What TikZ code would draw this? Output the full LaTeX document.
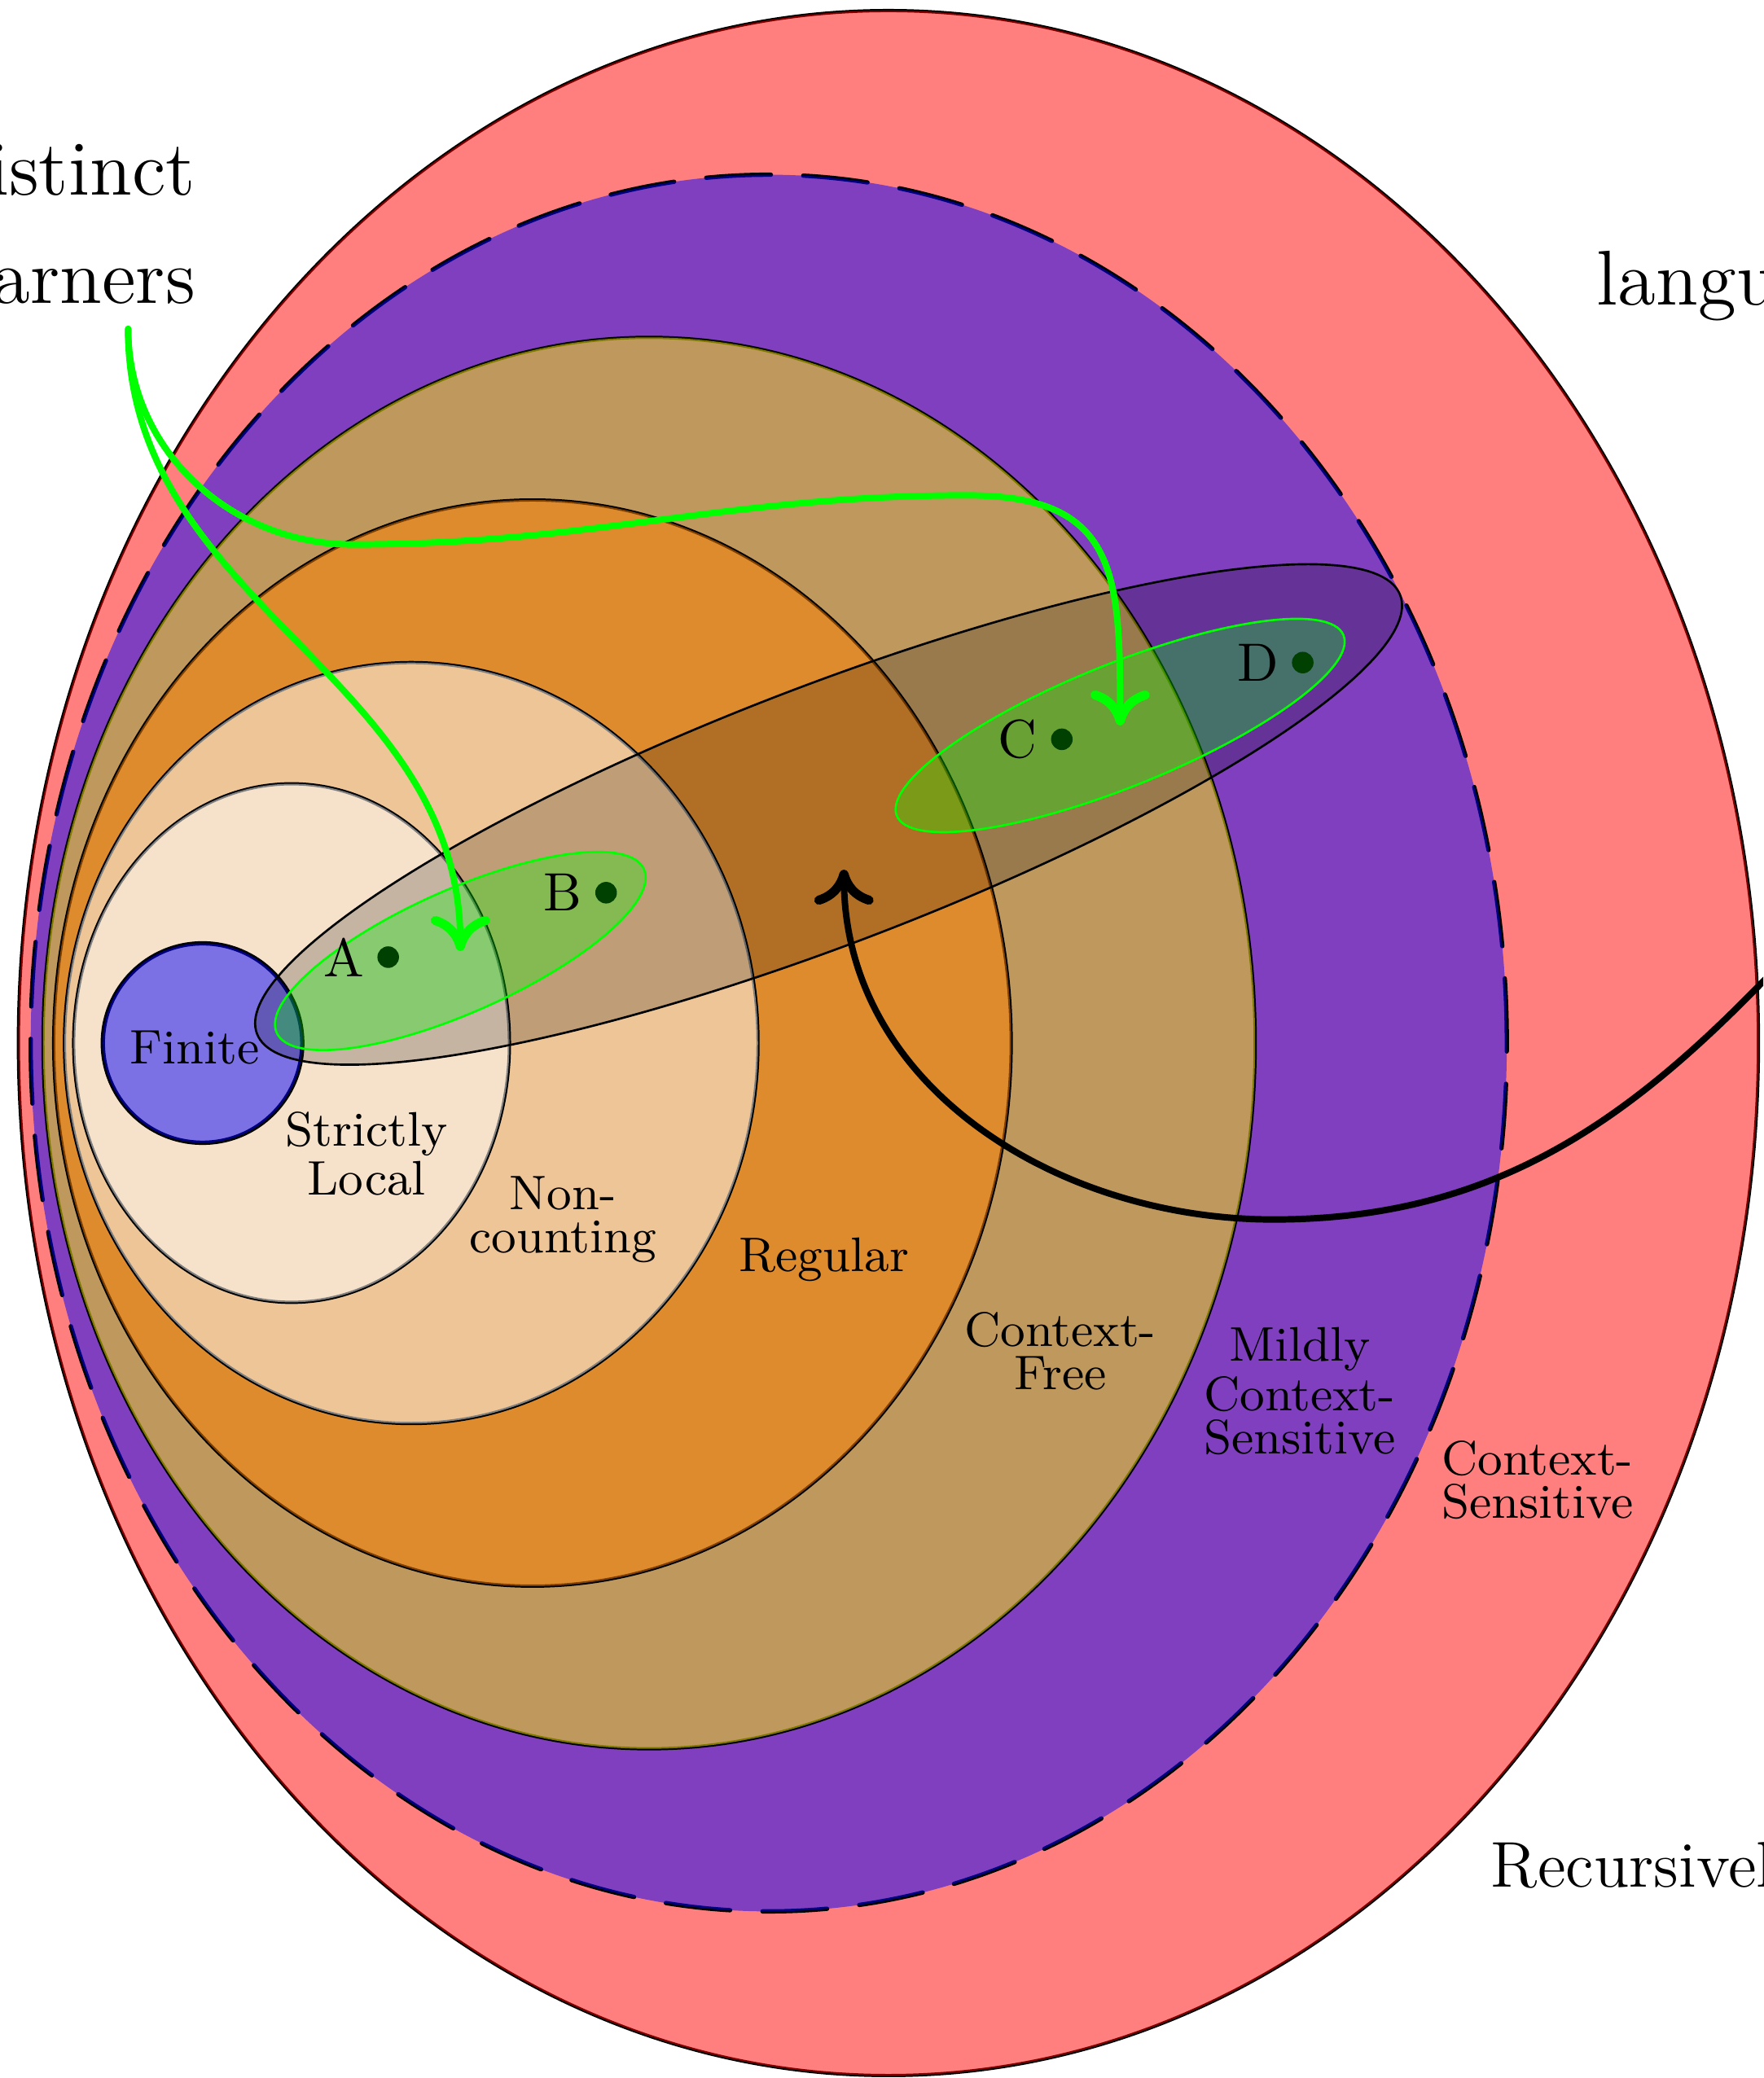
\documentclass[tikz,border=0pt]{standalone}
\usepackage{tikz}
\usetikzlibrary{arrows.meta, shapes.geometric, positioning}

\tikzset{
  rim/.style={semithick},
  wash/.style={fill=#1, fill opacity=.5},
  ringlabel/.style={font=\fontsize{9pt}{8pt}\selectfont, align=center},
  bigtext/.style={font=\Large, inner sep=0pt},
  learnerset/.style={ellipse, draw=green, fill=green, fill opacity=.3, inner sep=0pt},
  learnerdot/.style={fill=green!25!black},
  tip/.style={-{Computer Modern Rightarrow[length=6.5pt,width=11pt,line width=1.7pt]}},
  learnarrow/.style={very thick, green, line cap=round, tip},
}

\begin{document}
\begin{tikzpicture}
\useasboundingbox (0,-6.746) rectangle (11.491,6.799);
\clip (0,-6.746) rectangle (11.491,6.799);

\draw[rim] (5.79,0) ellipse (5.67 and 6.73);
\fill[wash=red] (5.79,0) ellipse (5.67 and 6.73);
\draw[thick, dash pattern=on 12pt off 6pt, line cap=round] (5.01,0) ellipse (4.81 and 5.66);
\fill[wash=blue] (5.01,0) ellipse (4.81 and 5.66);
\draw[rim] (4.23,0) ellipse (3.95 and 4.60);
\fill[wash=yellow] (4.23,0) ellipse (3.95 and 4.60);
\draw[rim] (3.47,0) ellipse (3.12 and 3.54);
\fill[wash=orange] (3.47,0) ellipse (3.12 and 3.54);
\draw[rim] (2.68,0) ellipse (2.26 and 2.48);
\fill[wash=white] (2.68,0) ellipse (2.26 and 2.48);
\draw[rim] (1.90,0) ellipse (1.42 and 1.69);
\fill[wash=white] (1.90,0) ellipse (1.42 and 1.69);
\draw[thick] (1.32,0) circle (0.65);
\fill[wash=blue] (1.32,0) circle (0.65);

\filldraw[fill=black, fill opacity=.2, rotate around={21:(5.40,1.49)}] (5.40,1.49) ellipse (3.99 and 0.84);

\node[learnerset, minimum width=2.62cm, minimum height=0.8cm, rotate=24] (lab) at (3.00,0.60) {};
\node[learnerset, minimum width=3.14cm, minimum height=0.8cm, rotate=22] (lcd) at (7.30,2.07) {};

\coordinate (a) at (2.53,0.56);
\coordinate (b) at (3.95,0.98);
\coordinate (c) at (6.92,1.98);
\coordinate (d) at (8.49,2.48);
\foreach \p in {a,b,c,d}
  \fill[learnerdot] (\p) circle (2pt);
\node[left=1pt of a] (la) {A};
\node[left=1pt of b] (lb) {B};
\node[left=1pt of c] (lc) {C};
\node[left=1pt of d] (ld) {D};

\node[ringlabel] (fin) at (1.27,-0.03) {Finite};
\node[ringlabel] (sl) at (2.39,-0.72) {Strictly\\Local};
\node[ringlabel] (nc) at (3.67,-1.15) {Non-\\counting};
\node[ringlabel] (reg) at (5.37,-1.41) {Regular};
\node[ringlabel] (cf) at (6.91,-2.01) {Context-\\Free};
\node[ringlabel] (mcs) at (8.47,-2.27) {Mildly\\Context-\\Sensitive};
\node[ringlabel] (cs) at (10.02,-2.85) {Context-\\Sensitive};

\node[bigtext, anchor=base east] (distinct) at (1.28,5.53) {Distinct};
\node[bigtext, anchor=base east] (learners) at (1.28,4.82) {learners};
\node[bigtext, anchor=base west] (languages) at (10.40,4.81) {languages};
\node[font=\large, inner sep=0pt, anchor=base west] (re) at (9.71,-5.50) {Recursively Enumerable};

\coordinate (lstart) at (0.835,4.655);
\draw[learnarrow] (lstart) to[out=-90,in=90] (lab.center);
\draw[learnarrow] (lstart) to[out=-90,in=180] (2.3,3.25) to[out=0,in=180] (6.3,3.57) to[out=0,in=90,looseness=1.4] (lcd.center);

\coordinate (outside) at (12.0,0.95);
\coordinate (target) at (5.50,1.13);
\draw[very thick, line cap=round, tip] (outside) to[out=228,in=0] (8.3,-1.15) to[out=180,in=-90] (target);
\end{tikzpicture}
\end{document}
